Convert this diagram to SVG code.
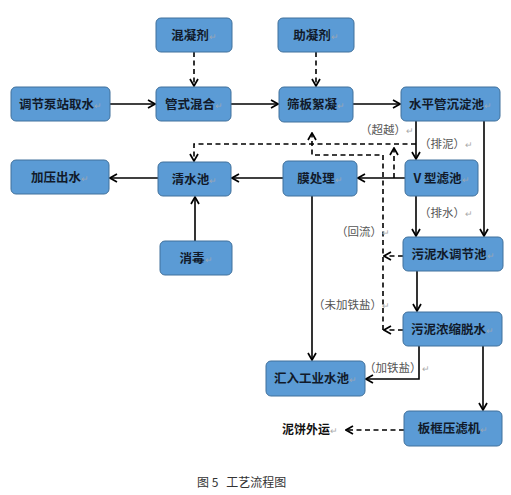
<svg xmlns="http://www.w3.org/2000/svg" width="511" height="495" viewBox="0 0 511 495">
<defs>
<marker id="a" viewBox="0 0 10 10" refX="9" refY="5" markerWidth="10" markerHeight="10" markerUnits="userSpaceOnUse" orient="auto"><path d="M2,1 L9,5 L2,9" fill="none" stroke="#000" stroke-width="1.7"/></marker>
</defs>
<style>
.n rect{fill:#5b9bd5;stroke:#41719c;stroke-width:1}
.n text{font-family:"Noto Sans CJK SC","Noto Sans CJK JP",sans-serif;font-size:12.5px;font-weight:bold;fill:#111a2a;text-anchor:middle}
.m{fill:#9aa6b4;font-weight:normal;font-size:9px}
.c path{fill:none;stroke:#000;stroke-width:1.6;marker-end:url(#a)}
.c path.d{stroke-dasharray:5,3.5}
.l{font-family:"Noto Sans CJK SC","Noto Sans CJK JP",sans-serif;font-size:11.5px;fill:#555}
.l tspan{fill:#aaa;font-size:9px}
</style>
<g class="c">
<path class="d" d="M194,52 V86"/>
<path class="d" d="M316,52 V86"/>
<path d="M110,104 H155"/>
<path d="M231,104 H278"/>
<path d="M353,104 H400"/>
<path d="M416,121 V159"/>
<path d="M484,121 V236"/>
<path d="M405,178 H358"/>
<path d="M283,178 H232"/>
<path d="M158,178 H110"/>
<path d="M195,241 V197"/>
<path d="M416,196 V236"/>
<path d="M417,271 V311"/>
<path d="M483,346 V410"/>
<path d="M419,346 V379 H366"/>
<path d="M312,196 V360"/>
<path class="d" d="M404,430 H346"/>
<path class="d" d="M416,144 H194 V161"/>
<path class="d" d="M383,330 V155 H312 V133"/>
<path class="d" d="M403,256 H384"/>
<path class="d" d="M403,330 H384"/>
<path class="d" d="M394,178 V148"/>
</g>
<g id="hnj" class="n"><rect x="156" y="18" width="76" height="34" rx="5"/><text x="194" y="39.5">混凝剂<tspan class="m">↵</tspan></text></g>
<g id="znj" class="n"><rect x="278" y="18" width="76" height="34" rx="5"/><text x="316" y="39.5">助凝剂<tspan class="m">↵</tspan></text></g>
<g id="tjbz" class="n"><rect x="11" y="87" width="99" height="34" rx="5"/><text x="60.5" y="108.5">调节泵站取水<tspan class="m">↵</tspan></text></g>
<g id="gshh" class="n"><rect x="156" y="87" width="75" height="34" rx="5"/><text x="194" y="108.5">管式混合<tspan class="m">↵</tspan></text></g>
<g id="sbxn" class="n"><rect x="279" y="87" width="74" height="35" rx="5"/><text x="316" y="109">筛板絮凝<tspan class="m">↵</tspan></text></g>
<g id="spg" class="n"><rect x="401" y="87" width="99" height="34" rx="5"/><text x="450.5" y="108.5">水平管沉淀池<tspan class="m">↵</tspan></text></g>
<g id="jycs" class="n"><rect x="11" y="160" width="98" height="34" rx="5"/><text x="60" y="181.5">加压出水<tspan class="m">↵</tspan></text></g>
<g id="qsc" class="n"><rect x="158" y="162" width="73" height="34" rx="5"/><text x="194.5" y="183.5">清水池<tspan class="m">↵</tspan></text></g>
<g id="mcl" class="n"><rect x="283" y="161" width="74" height="35" rx="5"/><text x="320" y="183">膜处理<tspan class="m">↵</tspan></text></g>
<g id="vxl" class="n"><rect x="405" y="160" width="73" height="36" rx="5"/><text x="441.5" y="182.5">V 型滤池<tspan class="m">↵</tspan></text></g>
<g id="xd" class="n"><rect x="160" y="241" width="72" height="34" rx="5"/><text x="196" y="262.5">消毒<tspan class="m">↵</tspan></text></g>
<g id="wnstj" class="n"><rect x="403" y="237" width="100" height="34" rx="5"/><text x="453" y="258.5">污泥水调节池<tspan class="m">↵</tspan></text></g>
<g id="wnns" class="n"><rect x="403" y="312" width="99" height="34" rx="5"/><text x="452.5" y="333.5">污泥浓缩脱水<tspan class="m">↵</tspan></text></g>
<g id="hrgy" class="n"><rect x="266" y="361" width="99" height="35" rx="5"/><text x="315.5" y="383">汇入工业水池<tspan class="m">↵</tspan></text></g>
<g id="bkyl" class="n"><rect x="404" y="411" width="98" height="35" rx="5"/><text x="453" y="433">板框压滤机<tspan class="m">↵</tspan></text></g>
<g id="labels">
<text class="l" x="360" y="134">（超越）<tspan>↵</tspan></text>
<text class="l" x="419" y="148">（排泥）<tspan>↵</tspan></text>
<text class="l" x="419" y="217">（排水）<tspan>↵</tspan></text>
<text class="l" x="336" y="236">（回流）<tspan>↵</tspan></text>
<text class="l" x="313" y="309">（未加铁盐）<tspan>↵</tspan></text>
<text class="l" x="364" y="372">（加铁盐）<tspan>↵</tspan></text>
<text x="282" y="434" style="font-family:'Noto Sans CJK SC',sans-serif;font-size:12px;font-weight:bold;fill:#111">泥饼外运<tspan style="fill:#aaa;font-weight:normal;font-size:9px">↵</tspan></text>
<text x="197" y="487" style="font-family:'Noto Sans CJK SC',sans-serif;font-size:12px;fill:#333">图 5<tspan dx="8">工艺流程图</tspan></text>
</g>
</svg>
